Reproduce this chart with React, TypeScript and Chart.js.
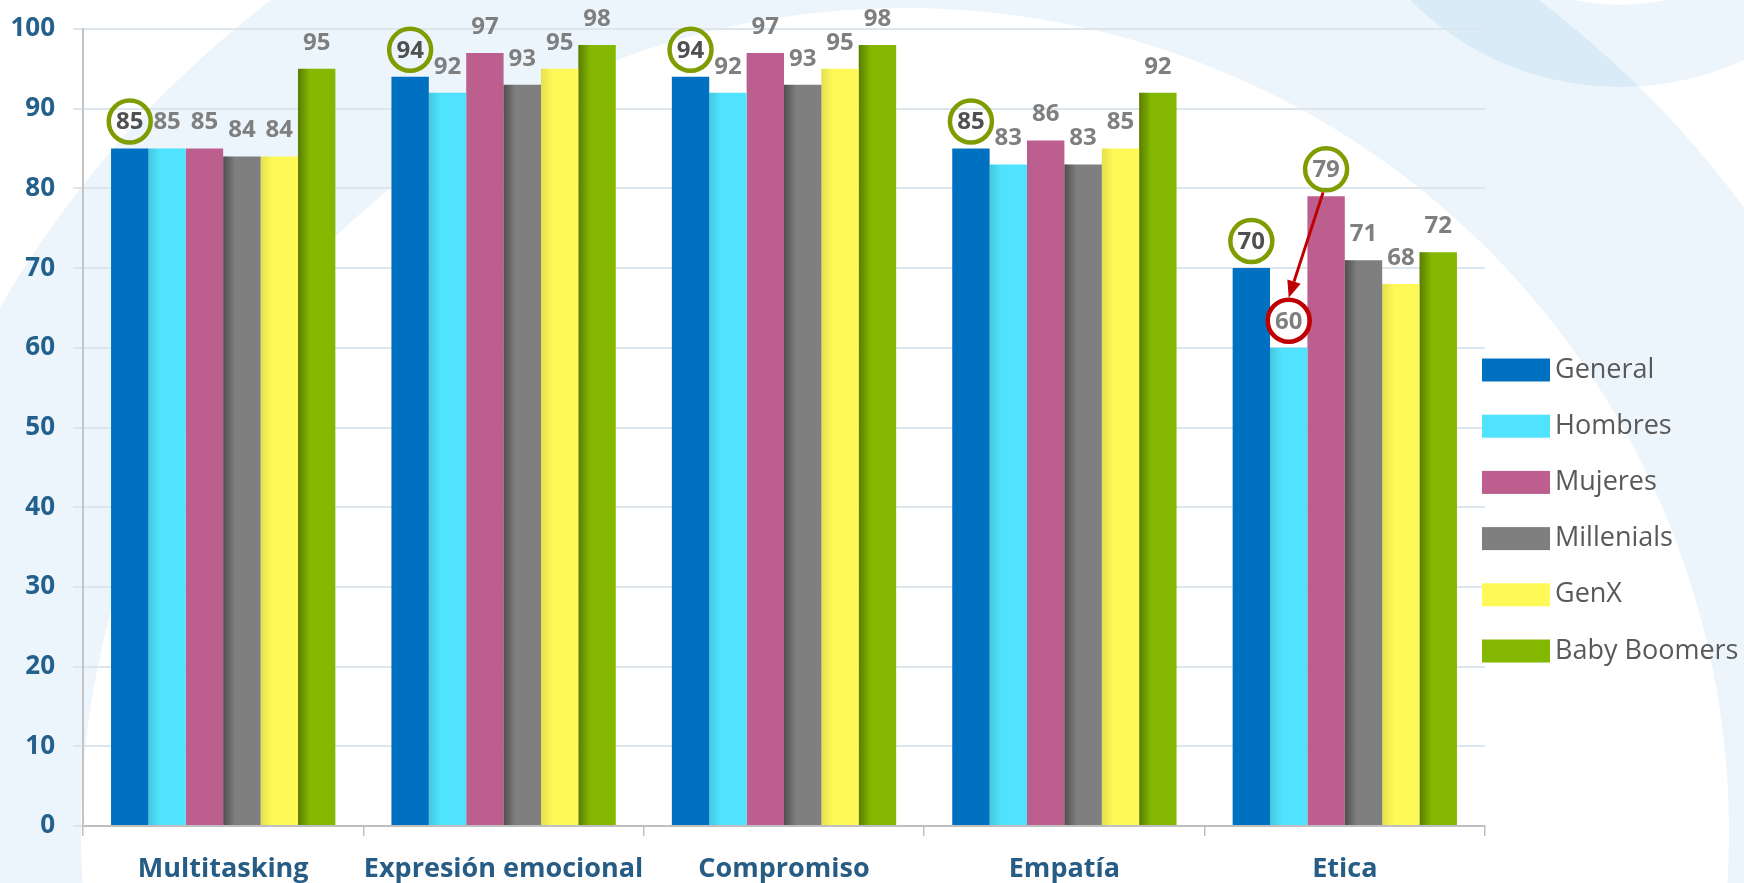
import React, { useEffect, useRef } from 'react';
import { Chart, registerables } from 'chart.js';

Chart.register(...registerables);

// ---- data ----
const categories = ['Multitasking', 'Expresión emocional', 'Compromiso', 'Empatía', 'Etica'];
const seriesNames = ['General', 'Hombres', 'Mujeres', 'Millenials', 'GenX', 'Baby Boomers'];
const general = [85, 94, 94, 85, 70];
const hombres = [85, 92, 92, 83, 60];
const mujeres = [85, 97, 97, 86, 79];
const millenials = [84, 93, 93, 83, 71];
const genX = [84, 95, 95, 85, 68];
const babyBoomers = [95, 98, 98, 92, 72];
const yTickValues = [0, 10, 20, 30, 40, 50, 60, 70, 80, 90, 100];
// [datasetIndex, categoryIndex]
const greenHighlights = [[0, 0], [0, 1], [0, 2], [0, 3], [0, 4], [2, 4]];
const redHighlights = [[1, 4]];
const arrowFrom = [2, 4];
const arrowTo = [1, 4];

const seriesValues = [general, hombres, mujeres, millenials, genX, babyBoomers];
const seriesColors = ['#0070C0', '#4FE3FE', '#BC5E8E', '#7F7F7F', '#FFF957', '#84B800'];
const seriesShade = [0, 0.12, 0, 0.38, 0.1, 0.32];

const FONT = '"Open Sans", "DejaVu Sans", sans-serif';
const LABEL_OFFSET = 27;

const backgroundPlugin = {
  id: 'bgShapes',
  beforeDraw(chart: any) {
    const ctx = chart.ctx;
    const W = chart.width;
    const H = chart.height;
    ctx.save();
    ctx.fillStyle = '#ffffff';
    ctx.fillRect(0, 0, W, H);
    const tint = 'rgba(0,130,200,0.08)';
    const ring = (cx: number, cy: number, r1: number, r2: number) => {
      ctx.beginPath();
      ctx.arc(cx, cy, r1, 0, Math.PI * 2);
      ctx.moveTo(cx + r2, cy);
      ctx.arc(cx, cy, r2, 0, Math.PI * 2, true);
      ctx.fillStyle = tint;
      ctx.fill('evenodd');
    };
    ring(905, 832, 1046, 824);
    ring(1620, -210, 297, 215);
    ctx.restore();
  },
};

const labelCenter = (chart: any, di: number, ci: number) => {
  const bar = chart.getDatasetMeta(di).data[ci];
  return { x: bar.x, y: bar.y - LABEL_OFFSET };
};

const decorPlugin = {
  id: 'decor',
  afterDatasetsDraw(chart: any) {
    const ctx = chart.ctx;
    ctx.save();
    // bar side shading
    chart.data.datasets.forEach((ds: any, di: number) => {
      const s = seriesShade[di];
      if (!s) return;
      const meta = chart.getDatasetMeta(di);
      meta.data.forEach((bar: any) => {
        const { x, y, base, width } = bar.getProps(['x', 'y', 'base', 'width'], true);
        const left = x - width / 2;
        const g = ctx.createLinearGradient(left, 0, left + 12, 0);
        g.addColorStop(0, `rgba(0,0,0,${s})`);
        g.addColorStop(1, 'rgba(0,0,0,0)');
        ctx.fillStyle = g;
        ctx.fillRect(left, y, 12, base - y);
      });
    });

    // value labels
    ctx.font = `bold 24px ${FONT}`;
    ctx.textAlign = 'center';
    ctx.textBaseline = 'middle';
    chart.data.datasets.forEach((ds: any, di: number) => {
      const meta = chart.getDatasetMeta(di);
      meta.data.forEach((bar: any, ci: number) => {
        ctx.fillStyle = di === 0 ? '#505050' : '#7F7F7F';
        ctx.fillText(String(ds.data[ci]), bar.x, bar.y - LABEL_OFFSET + 1);
      });
    });

    // circles
    const R = 21;
    const circle = (di: number, ci: number, color: string) => {
      const c = labelCenter(chart, di, ci);
      ctx.beginPath();
      ctx.arc(c.x, c.y, R, 0, Math.PI * 2);
      ctx.lineWidth = 4.5;
      ctx.strokeStyle = color;
      ctx.stroke();
    };
    greenHighlights.forEach(([di, ci]) => circle(di, ci, '#7F9C00'));
    redHighlights.forEach(([di, ci]) => circle(di, ci, '#C00000'));

    // arrow
    const a = labelCenter(chart, arrowFrom[0], arrowFrom[1]);
    const b = labelCenter(chart, arrowTo[0], arrowTo[1]);
    const sx = a.x - 3, sy = a.y + R + 2;
    const ex = b.x, ey = b.y - R - 2;
    const ang = Math.atan2(ey - sy, ex - sx);
    const headLen = 17, headW = 7;
    const bx = ex - headLen * Math.cos(ang), by = ey - headLen * Math.sin(ang);
    ctx.strokeStyle = '#C00000';
    ctx.fillStyle = '#C00000';
    ctx.lineWidth = 3;
    ctx.beginPath();
    ctx.moveTo(sx, sy);
    ctx.lineTo(bx, by);
    ctx.stroke();
    ctx.beginPath();
    ctx.moveTo(ex, ey);
    ctx.lineTo(bx + headW * Math.sin(ang), by - headW * Math.cos(ang));
    ctx.lineTo(bx - headW * Math.sin(ang), by + headW * Math.cos(ang));
    ctx.closePath();
    ctx.fill();
    ctx.restore();
  },
  afterDraw(chart: any) {
    // legend
    const ctx = chart.ctx;
    ctx.save();
    const lx = 1482, ly0 = 370, pitch = 56.2;
    chart.data.datasets.forEach((ds: any, i: number) => {
      const cy = ly0 + i * pitch;
      ctx.fillStyle = ds.backgroundColor;
      ctx.fillRect(lx, cy - 11.5, 68, 23);
      ctx.fillStyle = '#595959';
      ctx.font = `27px ${FONT}`;
      ctx.textAlign = 'left';
      ctx.textBaseline = 'middle';
      ctx.fillText(ds.label, lx + 73, cy);
    });
    ctx.restore();
  },
};

export default function App() {
  const ref = useRef<HTMLCanvasElement | null>(null);

  useEffect(() => {
    if (!ref.current) return;
    const chart = new Chart(ref.current, {
      type: 'bar',
      data: {
        labels: categories,
        datasets: seriesNames.map((name, i) => ({
          label: name,
          data: seriesValues[i],
          backgroundColor: seriesColors[i],
          borderWidth: 0,
          categoryPercentage: 0.8,
          barPercentage: 1.0,
        })),
      },
      options: {
        responsive: false,
        devicePixelRatio: 1,
        animation: false,
        layout: { padding: { left: 0, right: 259, top: 29, bottom: 0 } },
        plugins: {
          legend: { display: false },
          tooltip: { enabled: false },
        },
        scales: {
          x: {
            grid: {
              display: true,
              drawOnChartArea: false,
              offset: true,
              tickLength: 10,
              color: '#BFBFBF',
              lineWidth: 1.5,
            },
            border: { display: true, color: '#BFBFBF', width: 2 },
            ticks: {
              color: '#275C84',
              font: { family: FONT, weight: 'bold', size: 27 },
              padding: 17,
              maxRotation: 0,
              autoSkip: false,
            },
            afterFit: (s: any) => {
              s.height = 57;
              s.paddingLeft = 0;
              s.paddingRight = 0;
            },
          },
          y: {
            min: 0,
            max: 100,
            afterBuildTicks: (s: any) => {
              s.ticks = yTickValues.map((v) => ({ value: v }));
            },
            ticks: {
              color: '#24608C',
              font: { family: FONT, weight: 'bold', size: 26 },
              padding: 18,
            },
            grid: { color: '#DCE6EC', lineWidth: 2, tickLength: 10, drawTicks: true },
            border: { display: true, color: '#C4C4C4', width: 2 },
            afterFit: (s: any) => {
              s.width = 83;
              s.paddingTop = 0;
              s.paddingBottom = 0;
            },
          },
        },
      },
      plugins: [backgroundPlugin, decorPlugin],
    } as any);
    return () => chart.destroy();
  }, []);

  return (
    <div style={{ position: 'fixed', left: 0, top: 0, width: 1744, height: 883, overflow: 'hidden' }}>
      <canvas ref={ref} width={1744} height={883} style={{ display: 'block', width: 1744, height: 883 }} />
    </div>
  );
}
